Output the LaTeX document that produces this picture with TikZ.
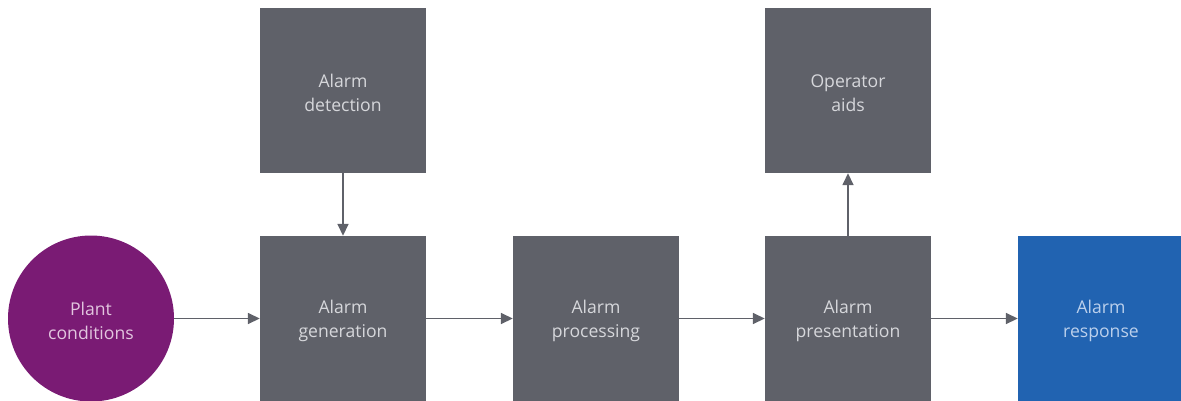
\documentclass[tikz,border=0pt]{standalone}
\usepackage{fontspec}
\setmainfont{Open Sans}
\usetikzlibrary{arrows.meta}
\definecolor{boxgray}{HTML}{5F6169}
\definecolor{plum}{HTML}{7A1B74}
\definecolor{resblue}{HTML}{2163B1}
\definecolor{txtgray}{HTML}{D6D7DB}
\definecolor{txtplum}{HTML}{E2C6DF}
\definecolor{txtblue}{HTML}{BBD0EC}
\begin{document}
\begin{tikzpicture}[x=1pt,y=-1pt,
  lbl/.style={font=\fontsize{17.6}{24}\selectfont, align=center, inner sep=0pt, yshift=-2.5pt},
  shape base/.style={minimum width=166pt, minimum height=165pt, inner sep=0pt},
  box/.style={shape base, fill=boxgray, label={[lbl, text=txtgray]center:{#1}}},
  rbox/.style={shape base, fill=resblue, label={[lbl, text=txtblue]center:{#1}}},
  cbox/.style={circle, minimum size=166pt, inner sep=0pt, fill=plum, label={[lbl, text=txtplum]center:{#1}}},
  flow/.style={draw=boxgray, line width=1.6pt, -{Triangle[length=12pt,width=11pt]}}]
\useasboundingbox (0,0) rectangle (1181,400);
\node[cbox={Plant\\conditions}] (plant) at (91,318.5) {};
\node[box={Alarm\\detection}] (det) at (343,90.5) {};
\node[box={Alarm\\generation}] (gen) at (343,318.5) {};
\node[box={Alarm\\processing}] (proc) at (596,318.5) {};
\node[box={Alarm\\presentation}] (pres) at (848,318.5) {};
\node[box={Operator\\aids}] (aids) at (848,90.5) {};
\node[rbox={Alarm\\response}] (resp) at (1101,318.5) {};
\draw[flow] (plant) -- (gen);
\draw[flow] (gen) -- (proc);
\draw[flow] (proc) -- (pres);
\draw[flow] (pres) -- (resp);
\draw[flow] (det) -- (gen);
\draw[flow] (pres) -- (aids);
\end{tikzpicture}
\end{document}
